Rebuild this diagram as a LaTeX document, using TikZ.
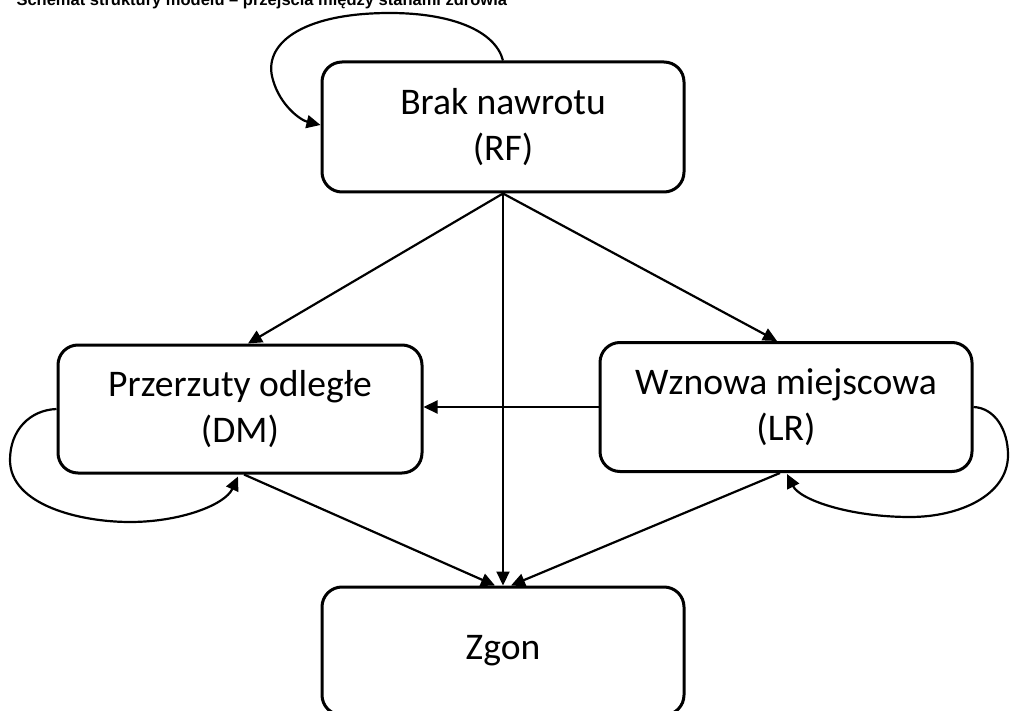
\documentclass[tikz,border=0pt]{standalone}
\usepackage{fontspec}
\setmainfont{Carlito}
\newfontfamily\titlefont{Liberation Sans}
\usetikzlibrary{arrows.meta,calc}
\begin{document}
\begin{tikzpicture}[x=1pt,y=-1pt,
  state/.style={draw, line width=3pt, rounded corners=20pt, align=center,
    inner sep=0pt, font=\fontsize{37.6}{46}\selectfont},
  conn/.style={line width=2.2pt, -{Triangle[length=14pt,width=13pt]}},
  loopc/.style={line width=2.2pt, -{Triangle[length=14pt,width=13pt]}}]
\useasboundingbox (0,0) rectangle (1012,711);
\node[anchor=base west, font=\titlefont\bfseries\fontsize{16.5}{19}\selectfont] (title) at (13,6)
  {Schemat struktury modelu – przejścia między stanami zdrowia};
\node[state, minimum width=362pt, minimum height=130pt] (rf) at (503,127) {Brak nawrotu\\(RF)};
\node[state, minimum width=364pt, minimum height=128pt] (dm) at (240,409) {Przerzuty odległe\\(DM)};
\node[state, minimum width=372pt, minimum height=129pt] (lr) at (786,407) {Wznowa miejscowa\\(LR)};
\node[state, minimum width=362pt, minimum height=128pt] (zg) at (503,651) {Zgon};
% straight connectors
\draw[conn] (rf.south) -- ($(dm.north)+(8,0)$);
\draw[conn] (rf.south) -- ($(lr.north)+(-9,0)$);
\draw[conn] (rf.south) -- (zg.north);
\draw[conn] ($(dm.south)+(4,0)$) -- ($(zg.north)+(-8,0)$);
\draw[conn] ($(lr.south)+(-6,0)$) -- ($(zg.north)+(8,0)$);
\draw[conn] (lr.west) -- (lr.west -| dm.east);
% self loops
\draw[loopc] (rf.north) .. controls (495,30) and (450,13) .. (390,13)
  .. controls (300,13) and (262,45) .. (273,80)
  .. controls (280,105) and (300,120) .. ($(rf.west)+(0,-2)$);
\draw[loopc] (dm.west) .. controls (30,410) and (10,430) .. (10,460)
  .. controls (10,505) and (80,522) .. (130,522)
  .. controls (180,522) and (225,505) .. ($(dm.south)+(-2,2)$);
\draw[loopc] (lr.east) .. controls (995,408) and (1008,430) .. (1008,455)
  .. controls (1008,495) and (960,517) .. (910,517)
  .. controls (850,517) and (800,500) .. ($(lr.south)+(1,1)$);
\end{tikzpicture}
\end{document}
